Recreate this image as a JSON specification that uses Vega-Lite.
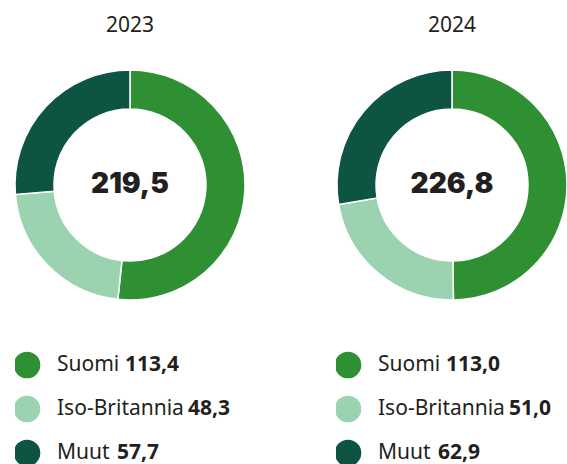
{
  "$schema": "https://vega.github.io/schema/vega-lite/v6.json",
  "padding": {"top": 15, "left": 12, "right": 0, "bottom": 0},
  "background": "white",
  "datasets": {
    "d": [
      {"year": "2023", "cat": "Suomi", "value": 113.4, "label": "113,4", "total": "219,5", "ord": 1},
      {"year": "2023", "cat": "Iso-Britannia", "value": 48.3, "label": "48,3", "total": "219,5", "ord": 2},
      {"year": "2023", "cat": "Muut", "value": 57.7, "label": "57,7", "total": "219,5", "ord": 3},
      {"year": "2024", "cat": "Suomi", "value": 113.0, "label": "113,0", "total": "226,8", "ord": 1},
      {"year": "2024", "cat": "Iso-Britannia", "value": 51.0, "label": "51,0", "total": "226,8", "ord": 2},
      {"year": "2024", "cat": "Muut", "value": 62.9, "label": "62,9", "total": "226,8", "ord": 3}
    ]
  },
  "data": {"name": "d"},
  "vconcat": [
    {
      "facet": {"column": {"field": "year", "type": "nominal", "header": {"title": null, "labelFontSize": 21, "labelFont": "Noto Sans", "labelColor": "#231f20", "labelPadding": 34}}},
      "spacing": 92,
      "bounds": "flush",
      "spec": {
        "width": 230,
        "height": 230,
        "layer": [
          {
            "mark": {"type": "arc", "radius": 115, "radius2": 76, "stroke": "white", "strokeWidth": 1.5},
            "encoding": {
              "theta": {"field": "value", "type": "quantitative", "stack": "normalize"},
              "order": {"field": "ord", "type": "quantitative"},
              "color": {"field": "cat", "type": "nominal", "legend": null,
                "scale": {"domain": ["Suomi", "Iso-Britannia", "Muut"], "range": ["#2f8f33", "#9bd3b1", "#0d5443"]}}
            }
          },
          {
            "transform": [{"filter": "datum.cat === 'Suomi'"}],
            "mark": {"type": "text", "font": "Inter", "fontWeight": 900, "fontSize": 28, "color": "#231f20", "align": "center", "baseline": "middle"},
            "encoding": {"text": {"field": "total"}}
          }
        ]
      }
    },
    {
      "facet": {"column": {"field": "year", "type": "nominal", "header": {"title": null, "labels": false}}},
      "spacing": 91,
      "bounds": "flush",
      "spec": {
        "width": 230,
        "height": 122,
        "layer": [
          {
            "mark": {"type": "point", "filled": true, "size": 707, "opacity": 1, "xOffset": -103, "clip": true},
            "encoding": {
              "y": {"field": "cat", "type": "nominal", "axis": null, "scale": {"type": "point", "domain": ["Suomi", "Iso-Britannia", "Muut"], "range": [22, 110], "padding": 0}},
              "color": {"field": "cat", "type": "nominal", "legend": null}
            }
          },
          {
            "mark": {"type": "text", "font": "Noto Sans", "fontSize": 21, "color": "#231f20", "align": "left", "baseline": "middle", "xOffset": -73, "clip": true},
            "encoding": {
              "y": {"field": "cat", "type": "nominal", "axis": null},
              "text": {"field": "cat"}
            }
          },
          {
            "transform": [{"filter": "datum.cat === 'Suomi'"}],
            "mark": {"type": "text", "font": "Noto Sans", "fontWeight": "bold", "fontSize": 21, "color": "#231f20", "align": "left", "baseline": "middle", "xOffset": -5, "clip": true},
            "encoding": {
              "y": {"field": "cat", "type": "nominal", "axis": null},
              "text": {"field": "label"}
            }
          },
          {
            "transform": [{"filter": "datum.cat === 'Iso-Britannia'"}],
            "mark": {"type": "text", "font": "Noto Sans", "fontWeight": "bold", "fontSize": 21, "color": "#231f20", "align": "left", "baseline": "middle", "xOffset": 58, "clip": true},
            "encoding": {
              "y": {"field": "cat", "type": "nominal", "axis": null},
              "text": {"field": "label"}
            }
          },
          {
            "transform": [{"filter": "datum.cat === 'Muut'"}],
            "mark": {"type": "text", "font": "Noto Sans", "fontWeight": "bold", "fontSize": 21, "color": "#231f20", "align": "left", "baseline": "middle", "xOffset": -13, "clip": true},
            "encoding": {
              "y": {"field": "cat", "type": "nominal", "axis": null},
              "text": {"field": "label"}
            }
          }
        ]
      }
    }
  ],
  "spacing": 40,
  "config": {"view": {"stroke": null}}
}
